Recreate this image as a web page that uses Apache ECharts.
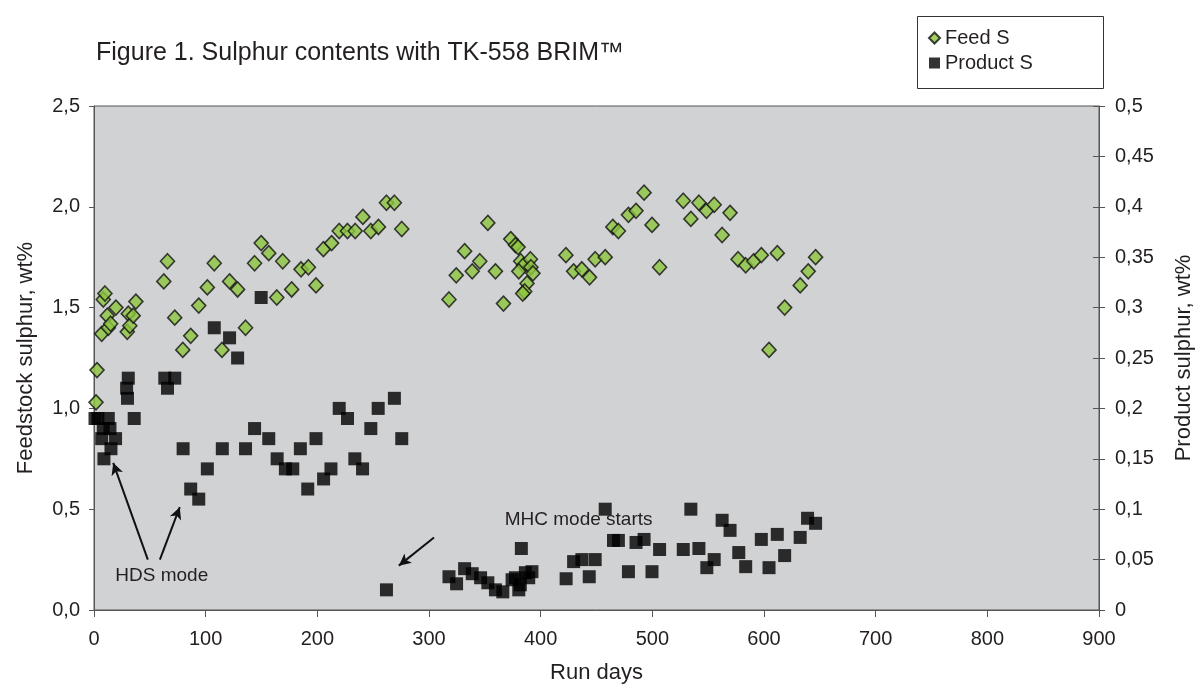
<!DOCTYPE html>
<html>
<head>
<meta charset="utf-8">
<script src="https://cdn.jsdelivr.net/npm/echarts@6/dist/echarts.min.js"></script>
<style>
html,body{margin:0;padding:0;background:#fff;}
#chart{width:1203px;height:689px;}
</style>
</head>
<body>
<div id="chart"></div>
<script>
// ---- Data ----
const feedDays = [1.8,2.7,6.9,8.3,9.8,11.9,12.8,14.9,19.6,29.8,30.7,32.1,35.1,37.5,
  62.5,65.8,72.3,79.5,86.6,93.8,101.5,107.7,114.6,121.4,128.6,135.7,143.8,149.7,156.5,163.7,169,177,
  185.4,192,198.8,205.4,212.8,219.6,227,233.9,240.8,247.9,254.7,261.9,269,275.6,
  317.9,324.4,331.9,338.7,345.5,352.7,359.5,366.7,373.2,377.4,379.8,382.1,384.8,380.4,390.8,391.3,393.1,387.8,385.7,383.9,
  422.6,429.5,436.9,443.8,448.8,457.8,464.6,469.6,478.6,485.4,492.6,499.7,506.5,
  527.7,534.5,541.7,548.5,555.4,562.5,569.6,576.8,583.6,590.8,597.6,604.5,611.9,618.5,632.4,639.6,646.2];
const feedS = [1.03,1.19,1.37,1.54,1.57,1.46,1.40,1.42,1.50,1.38,1.47,1.41,1.46,1.53,
  1.63,1.73,1.45,1.29,1.36,1.51,1.60,1.72,1.29,1.63,1.59,1.40,1.72,1.82,1.77,1.55,1.73,1.59,
  1.69,1.70,1.61,1.79,1.82,1.88,1.88,1.88,1.95,1.88,1.90,2.02,2.02,1.89,
  1.54,1.66,1.78,1.68,1.73,1.92,1.68,1.52,1.84,1.81,1.80,1.73,1.71,1.68,1.74,1.70,1.67,1.62,1.58,1.57,
  1.76,1.68,1.69,1.65,1.74,1.75,1.90,1.88,1.96,1.98,2.07,1.91,1.70,
  2.03,1.94,2.02,1.98,2.01,1.86,1.97,1.74,1.71,1.73,1.76,1.29,1.77,1.50,1.61,1.68,1.75];

const productDays = [0.9,3.5,6.9,8.3,8.9,12.8,14.3,15.2,19.3,29.2,30.0,30.7,36,
  63.4,65.8,72.3,79.8,86.6,93.8,101.5,107.7,114.9,121.4,128.6,135.7,143.8,149.7,156.5,164,171.4,178,
  184.8,191.4,198.8,205.6,212.2,219.6,227,233.6,240.5,247.9,254.5,261.9,269,275.6,
  317.9,324.7,331.9,338.7,346.2,352.7,359.5,366.1,374.4,377.4,380.4,381.8,382.7,386.3,389.3,392.2,
  422.8,429.5,436.9,443.5,448.8,457.8,465.2,469.6,478.6,485.4,492.6,499.7,506.5,
  527.7,534.5,541.7,548.8,555.4,562.5,569.6,577.4,583.6,597.6,604.5,611.9,618.5,632.4,639,646.2];
const productS = [0.19,0.19,0.17,0.18,0.15,0.19,0.18,0.16,0.17,0.22,0.21,0.23,0.19,
  0.23,0.22,0.23,0.16,0.12,0.11,0.14,0.28,0.16,0.27,0.25,0.16,0.18,0.31,0.17,0.15,0.14,0.14,
  0.16,0.12,0.17,0.13,0.14,0.20,0.19,0.15,0.14,0.18,0.20,0.02,0.21,0.17,
  0.033,0.026,0.041,0.036,0.032,0.027,0.020,0.018,0.030,0.032,0.020,0.025,0.061,0.037,0.032,0.038,
  0.031,0.048,0.050,0.033,0.050,0.100,0.069,0.069,0.038,0.067,0.070,0.038,0.060,
  0.060,0.100,0.061,0.042,0.050,0.089,0.079,0.057,0.043,0.070,0.042,0.075,0.054,0.072,0.091,0.086];

const xTicks = [0,100,200,300,400,500,600,700,800,900];
const leftTicks = [0,0.5,1.0,1.5,2.0,2.5];
const rightTicks = [0,0.05,0.1,0.15,0.2,0.25,0.3,0.35,0.4,0.45,0.5];

// annotation anchors in data space (day, feedstock wt%)
const hdsLabel = {text:'HDS mode', at:[60.7,0.17]};
const hdsArrows = [[[48.2,0.25],[17.2,0.73]], [[59,0.25],[76.8,0.51]]];
const mhcLabel = {text:'MHC mode starts', at:[434,0.45]};
const mhcArrow = [[304.5,0.36],[273,0.22]];

const FONT = 'Liberation Sans';
const TXT = '#231F20';

const feedData = feedDays.map((d,i)=>[d, feedS[i]]);
const productData = productDays.map((d,i)=>[d, productS[i]]);

const chart = echarts.init(document.getElementById('chart'), null, {renderer:'canvas'});

const arrowLine = (a,b)=>[{coord:a},{coord:b}];

const option = {
  animation:false,
  textStyle:{fontFamily:FONT,color:TXT},
  title:{
    text:'Figure 1. Sulphur contents with TK-558 BRIM\u2122',
    left:91, top:36,
    textStyle:{fontFamily:FONT,fontSize:25,fontWeight:'normal',color:TXT}
  },
  legend:{
    orient:'vertical',
    left:917, top:16,
    itemWidth:11, itemHeight:11, itemGap:5,
    padding:[12,20,16,11],
    z:10,
    textStyle:{fontFamily:FONT,fontSize:20,color:TXT},
    data:[{name:'Feed S',icon:'diamond'},{name:'Product S',icon:'rect'}]
  },
  grid:{
    left:94, right:101, top:106, bottom:77,
    show:true, backgroundColor:'#D1D2D4', borderColor:'#555', borderWidth:1
  },
  xAxis:{
    type:'value', min:0, max:900, interval:100,
    name:'Run days', nameLocation:'middle', nameGap:52,
    nameTextStyle:{fontFamily:FONT,fontSize:22,color:TXT},
    axisLine:{lineStyle:{color:'#555',width:1}},
    axisTick:{show:true,length:7,lineStyle:{color:'#555'}},
    axisLabel:{fontFamily:FONT,fontSize:20,color:TXT,margin:19,
      formatter:v=>xTicks.includes(v)?String(v):''},
    splitLine:{show:false}
  },
  yAxis:[
    {
      type:'value', min:0, max:2.5, interval:0.5, position:'left',
      name:'Feedstock sulphur, wt%', nameLocation:'middle', nameGap:57,
      nameTextStyle:{fontFamily:FONT,fontSize:22,color:TXT},
      axisLine:{show:true,lineStyle:{color:'#555',width:1}},
      axisTick:{show:true,length:5,lineStyle:{color:'#555'}},
      axisLabel:{fontFamily:FONT,fontSize:20,color:TXT,margin:14,
        formatter:v=>leftTicks.some(t=>Math.abs(t-v)<1e-6)?v.toFixed(1).replace('.',','):''},
      splitLine:{show:false}
    },
    {
      type:'value', min:0, max:0.5, interval:0.05, position:'right',
      name:'Product sulphur, wt%', nameLocation:'middle', nameGap:74,
      nameTextStyle:{fontFamily:FONT,fontSize:22,color:TXT},
      axisLine:{show:true,lineStyle:{color:'#555',width:1}},
      axisTick:{show:true,length:6,lineStyle:{color:'#555'}},
      axisLabel:{fontFamily:FONT,fontSize:20,color:TXT,margin:16,
        formatter:v=>String(+v.toFixed(2)).replace('.',',')},
      splitLine:{show:false}
    },
    {
      type:'value', min:0, max:0.5, interval:0.05, position:'right',
      axisLine:{show:false},
      axisTick:{show:true,inside:true,length:6,lineStyle:{color:'#555'}},
      axisLabel:{show:false}, splitLine:{show:false}
    }
  ],
  series:[
    {
      name:'Feed S', type:'scatter', yAxisIndex:0,
      symbol:'diamond', symbolSize:[14,15],
      itemStyle:{color:'#8DC63F',borderColor:'#111',borderWidth:1.6},
      data:feedData,
      markLine:{
        silent:true, symbol:['none','arrow'], symbolSize:[9,12],
        lineStyle:{color:'#111',width:2,type:'solid'},
        label:{show:false},
        data:[arrowLine(...hdsArrows[0]), arrowLine(...hdsArrows[1]), arrowLine(...mhcArrow)]
      },
      z:2
    },
    {
      name:'Product S', type:'scatter', yAxisIndex:1,
      symbol:'rect', symbolSize:13,
      itemStyle:{color:'#000'},
      data:productData,
      z:3
    }
  ]
};
chart.setOption(option);

function placeLabels(){
  const labels=[hdsLabel,mhcLabel];
  const els = labels.map(l=>{
    const p = chart.convertToPixel({xAxisIndex:0,yAxisIndex:0}, l.at);
    return {type:'text', x:p[0], y:p[1], z:10,
      style:{text:l.text, fill:TXT, font:'19px "'+FONT+'"', textAlign:'center', textVerticalAlign:'middle'}};
  });
  // legend frame
  els.push({type:'rect', z:1, shape:{x:917.5,y:16.5,width:186,height:72},
    style:{fill:'#fff',stroke:'#333',lineWidth:1}});
  chart.setOption({graphic:els});
}
placeLabels();
</script>
</body>
</html>
